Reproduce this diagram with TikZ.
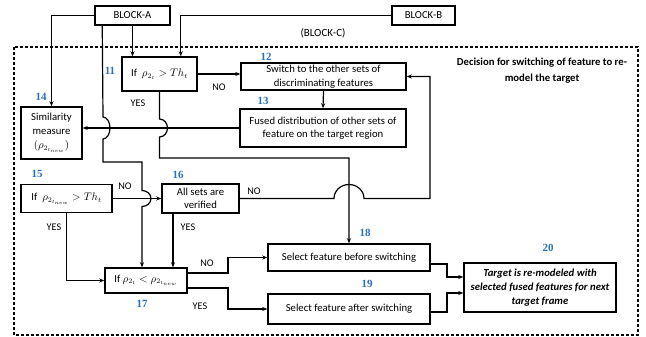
\documentclass[tikz,border=0pt]{standalone}
\usepackage{fontspec}
\setmainfont{Carlito}
\newfontfamily\numfont{Liberation Serif}
\usetikzlibrary{arrows.meta}
\definecolor{numblue}{RGB}{40,112,188}
\begin{document}
\begin{tikzpicture}[x=1pt,y=-1pt,
  box/.style={draw, line width=1.5pt, align=center, inner sep=1pt,
    font=\fontsize{10.7}{13.5}\selectfont},
  conn/.style={line width=1.2pt},
  arr/.style={conn, -{Stealth[length=5pt,width=4pt]}},
  num/.style={font=\numfont\bfseries\fontsize{11}{13}\selectfont, text=numblue},
  lbl/.style={font=\fontsize{10.2}{12}\selectfont, inner sep=0pt}]
\useasboundingbox (0,0) rectangle (646,337);

% outer dashed frame of BLOCK-C
\draw[line width=1.4pt, dash pattern=on 3pt off 2pt] (14,47) rectangle (638,335);
\node[font=\fontsize{11}{13}\selectfont] (blockc) at (323,33) {(BLOCK-C)};
\node[font=\bfseries\fontsize{10.7}{16}\selectfont, align=center] (title) at (542,71)
  {Decision for switching of feature to re-\\model the target};

% boxes
\node[box, minimum width=75, minimum height=19] (A) at (132.5,15.5) {BLOCK-A};
\node[box, minimum width=63, minimum height=19] (B) at (423.5,15.5) {BLOCK-B};
\node[box, minimum width=75, minimum height=34] (b11) at (159.5,74) {If\ \ $\rho_{2_t} > Th_t$};
\node[box, minimum width=165, minimum height=27] (b12) at (323.5,76.5)
  {Switch to the other sets of\\discriminating features};
\node[box, minimum width=166, minimum height=38] (b13) at (323,128)
  {Fused distribution of other sets of\\feature on the target region};
\node[box, minimum width=61, minimum height=52, font=\fontsize{10.7}{14}\selectfont] (b14) at (51.5,133)
  {Similarity\\measure\\$(\rho_{2_{t_{new}}})$};
\node[box, minimum width=91, minimum height=28] (b15) at (66.5,198.5) {If\ \ $\rho_{2_{t_{new}}} > Th_t$};
\node[box, minimum width=77, minimum height=29] (b16) at (200.5,198.5) {All sets are\\verified};
\node[box, minimum width=82, minimum height=25] (b17) at (146,280.5) {If $\rho_{2_t} < \rho_{2_{t_{new}}}$};
\node[box, minimum width=162, minimum height=27] (b18) at (349,257.5) {Select feature before switching};
\node[box, minimum width=162, minimum height=30] (b19) at (349,309) {Select feature after switching};
\node[box, minimum width=152, minimum height=49, font=\bfseries\itshape\fontsize{10.7}{14}\selectfont] (b20) at (540,287.5)
  {Target is re-modeled with\\selected fused features for next\\target frame};

% step numbers
\node[num] (n11) at (110,71) {11};
\node[num] (n12) at (266,57) {12};
\node[num] (n13) at (263,101) {13};
\node[num] (n14) at (41,97) {14};
\node[num] (n15) at (37,174) {15};
\node[num] (n16) at (178,175) {16};
\node[num] (n17) at (142,304) {17};
\node[num] (n18) at (365,233) {18};
\node[num] (n19) at (367,284) {19};
\node[num] (n20) at (548,248) {20};

% connectors
\draw[arr] (A.west) -| (b14.north);
\draw[arr] (A.south) -- (A.south |- b11.north);
\draw[arr] (B.west) -| ([xshift=-17pt]b11.north east);
\draw[arr] (b11.east) -- (b11.east -| b12.west);
\draw[arr] (b12.south) -- (b13.north);
\draw[arr] (b13.west) -- (b13.west -| b14.east);
\draw[arr] ([xshift=8pt]A.south west) -- (103,117)
  arc[start angle=-90, end angle=90, x radius=7, y radius=11] -- (103,162) -- (142,162) -- (142,190.5)
  arc[start angle=-90, end angle=90, x radius=9, y radius=8] -- ([xshift=-4pt]b17.north);
\draw[arr] (b11.south) -- (159.5,119)
  arc[start angle=-90, end angle=90, x radius=8, y radius=9] -- (159.5,158) -| (b18.north);
\draw[arr] (b15.east) -- (b15.east -| b16.west);
\draw[arr] (b16.east) -- (334,198.5)
  arc[start angle=180, end angle=360, x radius=15, y radius=14] -- (430,198.5) |- (b12.east);
\draw[arr] (b15.south) |- (b17.west);
\draw[arr] ([xshift=-27.5pt]b16.south) -- ([xshift=-27.5pt]b16.south |- b17.north);
\draw[arr] ([yshift=7.5pt]b17.east) -- (228,273) |- (b18.west);
\draw[arr] ([yshift=-7.5pt]b17.east) -- (228,288) |- (b19.west);
\draw[arr] ([yshift=-6.5pt]b18.east) -- (447,264) |- ([yshift=10.5pt]b20.west);
\draw[arr] ([yshift=-3pt]b19.east) -- (447,312) |- ([yshift=-5.5pt]b20.west);

% branch labels
\node[lbl] (no11) at (219,87) {NO};
\node[lbl] (yes11) at (138,103) {YES};
\node[lbl] (no15) at (125,186) {NO};
\node[lbl] (yes15) at (54,227) {YES};
\node[lbl] (no16) at (254,191) {NO};
\node[lbl] (yes16) at (188,227) {YES};
\node[lbl] (no17) at (207,263) {NO};
\node[lbl] (yes17) at (200,306) {YES};
\end{tikzpicture}
\end{document}
